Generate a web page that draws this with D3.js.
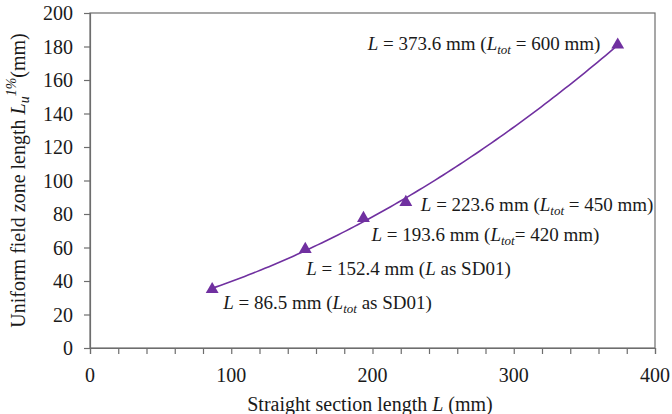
<!DOCTYPE html>
<html>
<head>
<meta charset="utf-8">
<script src="https://cdn.jsdelivr.net/npm/d3@7"></script>
<style>
  body { margin: 0; background: #fff; }
  svg text { font-family: "Liberation Serif", "Times New Roman", serif; fill: #1a1a1a; }
</style>
</head>
<body>
<svg id="chart" width="672" height="414"></svg>
<script>
// data
const straightLen = [86.5, 152.4, 193.6, 223.6, 373.6];
const uniformLen = [35, 59, 77.5, 87, 181];
const pointLabels = [
  ["86.5 mm (", "tot", " as SD01)"],
  ["152.4 mm (", null, " as SD01)"],
  ["193.6 mm (", "tot", "= 420 mm)"],
  ["223.6 mm (", "tot", " = 450 mm)"],
  ["373.6 mm (", "tot", " = 600 mm)"]
];
const xTicks = [0, 100, 200, 300, 400];
const yTicks = [0, 20, 40, 60, 80, 100, 120, 140, 160, 180, 200];

// label offsets from the marker, in px
const labelOffsets = [[11, 13], [1, 19], [8, 16], [15, 2], [-250, -1]];

const purple = "#7030a0";
const axisColor = "#6d6d6d";

const svg = d3.select("#chart");
const margin = {left: 90, right: 17, top: 13, bottom: 66};
const width = 672 - margin.left - margin.right;
const height = 414 - margin.top - margin.bottom;

const x = d3.scaleLinear().domain([0, 400]).range([margin.left, margin.left + width]);
const y = d3.scaleLinear().domain([0, 200]).range([margin.top + height, margin.top]);

// frame
svg.append("rect")
  .attr("x", x(0)).attr("y", y(200))
  .attr("width", x(400) - x(0)).attr("height", y(0) - y(200))
  .attr("fill", "none").attr("stroke", axisColor).attr("stroke-width", 1.2);

// x axis with minor ticks every 20
const xAxis = svg.append("g").attr("transform", `translate(0,${y(0)})`)
  .call(d3.axisBottom(x).tickValues(d3.range(0, 401, 20)).tickSize(6).tickFormat(""));
xAxis.select(".domain").attr("stroke", axisColor).attr("stroke-width", 1.2);
xAxis.selectAll(".tick line").attr("stroke", axisColor).attr("stroke-width", 1.2);

svg.append("g").selectAll("text").data(xTicks).join("text")
  .attr("x", d => x(d)).attr("y", y(0) + 34)
  .attr("text-anchor", "middle").attr("font-size", 20)
  .text(d => d);

// y axis
const yAxis = svg.append("g").attr("transform", `translate(${x(0)},0)`)
  .call(d3.axisLeft(y).tickValues(yTicks).tickSize(6).tickFormat(""));
yAxis.select(".domain").attr("stroke", axisColor).attr("stroke-width", 1.2);
yAxis.selectAll(".tick line").attr("stroke", axisColor).attr("stroke-width", 1.2);

svg.append("g").selectAll("text").data(yTicks).join("text")
  .attr("x", x(0) - 17).attr("y", d => y(d)).attr("dy", "0.35em")
  .attr("text-anchor", "end").attr("font-size", 20)
  .text(d => d);

// axis titles
const xt = svg.append("text")
  .attr("x", 370).attr("y", 411).attr("text-anchor", "middle").attr("font-size", 20);
xt.append("tspan").text("Straight section length ");
xt.append("tspan").attr("font-style", "italic").text("L");
xt.append("tspan").text(" (mm)");

const yt = svg.append("text")
  .attr("transform", `translate(25,${(y(0) + y(200)) / 2}) rotate(-90)`)
  .attr("text-anchor", "middle").attr("font-size", 20);
yt.append("tspan").text("Uniform field zone length ");
yt.append("tspan").attr("font-style", "italic").text("L");
yt.append("tspan").attr("font-style", "italic").attr("font-size", 14).attr("dy", 4).text("u");
yt.append("tspan").attr("font-style", "italic").attr("font-size", 14).attr("dy", -13).text("1%");
yt.append("tspan").attr("dy", 9).text("(mm)");

// quadratic least squares trendline from the points
function quadFit(xs, ys) {
  const n = xs.length;
  let s = [0, 0, 0, 0, 0], t = [0, 0, 0];
  for (let i = 0; i < n; i++) {
    for (let k = 0; k < 5; k++) s[k] += Math.pow(xs[i], k);
    for (let k = 0; k < 3; k++) t[k] += ys[i] * Math.pow(xs[i], k);
  }
  const A = [[s[0], s[1], s[2], t[0]], [s[1], s[2], s[3], t[1]], [s[2], s[3], s[4], t[2]]];
  for (let i = 0; i < 3; i++) {
    for (let j = i + 1; j < 3; j++) {
      const f = A[j][i] / A[i][i];
      for (let k = i; k < 4; k++) A[j][k] -= f * A[i][k];
    }
  }
  const c = [0, 0, 0];
  for (let i = 2; i >= 0; i--) {
    let v = A[i][3];
    for (let k = i + 1; k < 3; k++) v -= A[i][k] * c[k];
    c[i] = v / A[i][i];
  }
  return v => c[0] + c[1] * v + c[2] * v * v;
}
const fit = quadFit(straightLen, uniformLen);
const x0 = d3.min(straightLen), x1 = d3.max(straightLen);
const curvePts = d3.range(0, 101).map(i => x0 + (x1 - x0) * i / 100);

svg.append("path")
  .datum(curvePts)
  .attr("fill", "none").attr("stroke", purple).attr("stroke-width", 1.6)
  .attr("d", d3.line().x(d => x(d)).y(d => y(fit(d))));

// markers
svg.append("g").selectAll("path").data(straightLen).join("path")
  .attr("transform", (d, i) => `translate(${x(d)},${y(uniformLen[i])})`)
  .attr("d", d3.symbol(d3.symbolTriangle, 72))
  .attr("fill", purple);

// point labels
const lbl = svg.append("g").selectAll("text").data(straightLen).join("text")
  .attr("x", (d, i) => x(d) + labelOffsets[i][0])
  .attr("y", (d, i) => y(uniformLen[i]) + labelOffsets[i][1])
  .attr("dy", "0.35em").attr("font-size", 19);
lbl.each(function(d, i) {
  const t = d3.select(this);
  const p = pointLabels[i];
  t.append("tspan").attr("font-style", "italic").text("L");
  t.append("tspan").text(" = " + p[0]);
  t.append("tspan").attr("font-style", "italic").text("L");
  if (p[1]) {
    t.append("tspan").attr("font-style", "italic").attr("font-size", 13).attr("dy", 4).text(p[1]);
    t.append("tspan").attr("dy", -4).text(p[2]);
  } else {
    t.append("tspan").text(p[2]);
  }
});
</script>
</body>
</html>
